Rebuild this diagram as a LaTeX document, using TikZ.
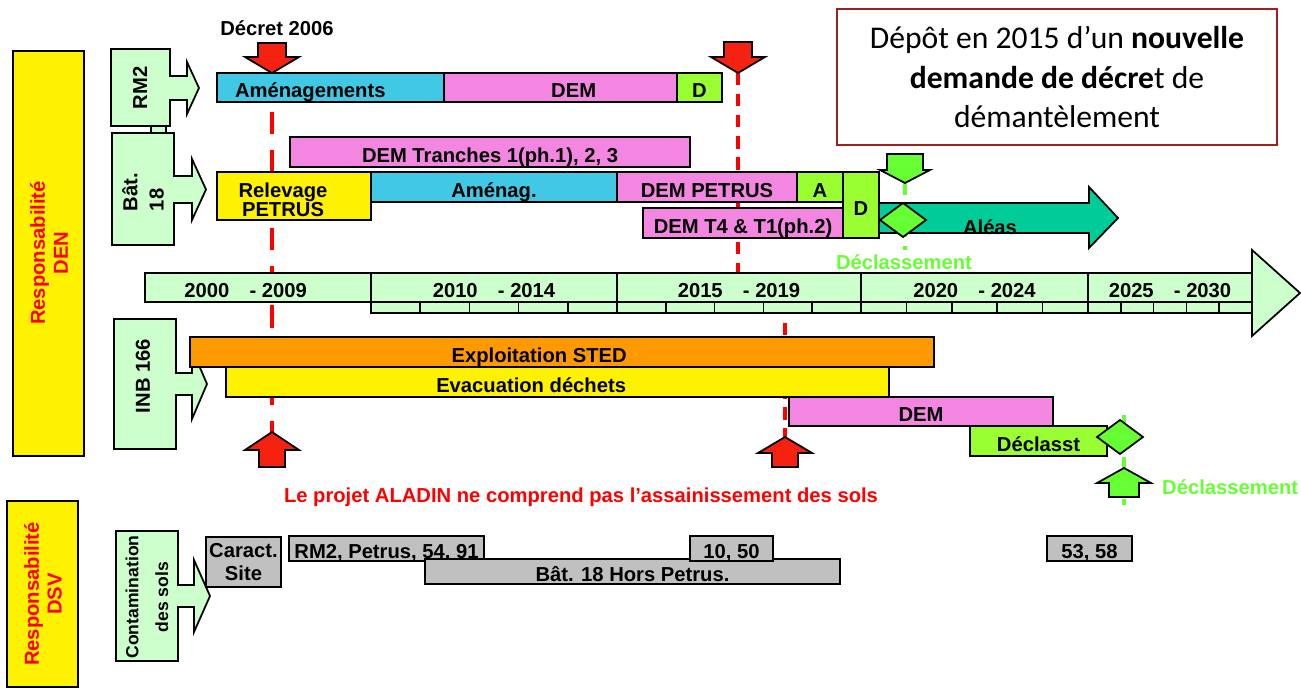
\documentclass[tikz,border=0pt]{standalone}
\usepackage{fontspec}
\setmainfont{Liberation Sans}
\newfontfamily\calibfont{Carlito}

\definecolor{paleGreen}{HTML}{CCFFCC}
\definecolor{skyBar}{HTML}{40C8E4}
\definecolor{pinkBar}{HTML}{F286E0}
\definecolor{limeBar}{HTML}{99FF33}
\definecolor{orangeBar}{HTML}{FF9900}
\definecolor{tealBar}{HTML}{00CC99}
\definecolor{greyBar}{HTML}{C0C0C0}
\definecolor{markRed}{HTML}{F52211}
\definecolor{markGreen}{HTML}{66FF33}
\definecolor{boxRed}{HTML}{9E2020}

\newcommand{\barfont}{\bfseries\fontsize{11.5}{13}\selectfont}

% name, left, top, right, bottom, fill, text
\newcommand{\ganttbar}[7]{%
  \node[bar, fill=#6, minimum width={(#4-#2)*0.02cm}, minimum height={(#5-#3)*0.02cm}]
    (#1) at ({(#2+#4)/2},{(#3+#5)/2}) {#7};}

% left, top, right, bottom, shaft top, shaft bottom, head base, tip, head top
\newcommand{\sidearrow}[9]{%
  \filldraw[shape line, fill=paleGreen] (#1,#2) -- (#3,#2) -- (#3,#5) -- (#7,#5) -- (#7,#9)
    -- ({#8},{(#5+#6)/2}) -- (#7,{#5+#6-#9}) -- (#7,#6) -- (#3,#6) -- (#3,#4) -- (#1,#4) -- cycle;}

% centre x, shaft end, head base, tip, shaft half width, head half width, fill
\newcommand{\blockpin}[7]{%
  \filldraw[shape line, fill=#7] ({#1-#5},#2) -- ({#1+#5},#2) -- ({#1+#5},#3) -- ({#1+#6},#3)
    -- (#1,#4) -- ({#1-#6},#3) -- ({#1-#5},#3) -- cycle;}

\newcommand{\milestone}[2]{%
  \filldraw[shape line, fill=markGreen] ({#1-23},#2) -- (#1,{#2-17}) -- ({#1+23},#2) -- (#1,{#2+17}) -- cycle;}

\begin{document}
\begin{tikzpicture}[x=0.02cm, y=-0.02cm,
  bar/.style={draw, line width=1pt, inner sep=0pt, font=\barfont, text height=11.4pt, text depth=0pt},
  twoline/.style={bar, text height=, text depth=, align=center},
  shape line/.style={draw, line width=1pt},
  tag/.style={font=\barfont, align=center},
  red dash/.style={draw=red, line width=2.5pt},
  green dash/.style={draw=markGreen, line width=2.5pt, dash pattern=on 7pt off 5pt}]
  \useasboundingbox (0,0) rectangle (1301,688);

  % guide lines, behind the bars
  \draw[red dash, dash pattern=on 13pt off 9pt] (272,73) -- (272,432);
  \draw[red dash, dash pattern=on 7pt off 5pt] (738,73) -- (738,272);
  \draw[red dash, dash pattern=on 7pt off 5pt] (785,302) -- (785,437);
  \draw[green dash] (905,183) -- (905,250);
  \draw[green dash] (1124,415) -- (1124,505);

  % responsibility columns
  \draw[shape line, fill=yellow] (13,51) rectangle (84,456);
  \node[tag, text=red, rotate=90] (denTxt) at (49,253) {Responsabilité\\DEN};
  \draw[shape line, fill=yellow] (7,501) rectangle (78,687);
  \node[tag, text=red, rotate=90] (dsvTxt) at (43,594) {Responsabilité\\DSV};

  % installations
  \sidearrow{111}{49}{170}{126}{76}{100}{187}{199}{62}
  \node[tag, rotate=90] (rm2) at (140,88) {RM2};
  \draw[shape line, fill=paleGreen] (151,126) rectangle (166,133);
  \sidearrow{112}{133}{174}{245}{176}{203}{192}{206}{159}
  \node[tag, rotate=90, align=left] (bat) at (143,192) {Bât.\\[2pt]18};
  \sidearrow{114}{319}{176}{449}{373}{395}{192}{207}{349}
  \node[tag, rotate=90] (inb) at (143,376) {INB 166};
  \sidearrow{116}{531}{178}{661}{585}{607}{194}{210}{560}
  \node[tag, rotate=90, font=\bfseries\fontsize{10}{11.5}\selectfont] (sols) at (147,597) {Contamination\\[5.5pt]des sols};

  % RM2 and Bat. 18
  \ganttbar{amen}{217}{73}{444}{102}{skyBar}{\hspace*{-23pt}Aménagements}
  \ganttbar{demRM}{444}{73}{677}{102}{pinkBar}{\hspace*{15pt}DEM}
  \ganttbar{dRM}{677}{73}{722}{102}{limeBar}{D}
  \ganttbar{tranches}{290}{137}{690}{167}{pinkBar}{DEM Tranches 1(ph.1), 2, 3}
  \ganttbar{relevage}{217}{172}{371}{220}{yellow}{}
  \node[tag, font=\bfseries\fontsize{11.5}{10.8}\selectfont] (relevTxt) at (283,200) {Relevage\\PETRUS};
  \ganttbar{amenag}{371}{172}{617}{202}{skyBar}{Aménag.}
  \ganttbar{demPet}{617}{172}{797}{202}{pinkBar}{DEM PETRUS}
  \ganttbar{aBat}{797}{172}{843}{202}{limeBar}{A}
  \ganttbar{demT}{643}{208}{843}{238}{pinkBar}{DEM T4 \& T1(ph.2)}
  \filldraw[shape line, fill=tealBar] (860,203) -- (1089,203) -- (1089,187) -- (1118,218)
    -- (1089,248) -- (1089,233) -- (860,233) -- cycle;
  \node[tag] (aleas) at (990,227) {Aléas};
  \ganttbar{dBat}{843}{172}{879}{238}{limeBar}{D}
  \milestone{903}{220}
  \blockpin{905}{154}{170}{183}{18}{25}{markGreen}
  \node[tag, text=markGreen] (declA) at (904,262) {Déclassement};

  % time line
  \filldraw[shape line, fill=paleGreen] (1252,273) -- (1252,250) -- (1300,293) -- (1252,336) -- (1252,313) -- cycle;
  \foreach \a/\b in {371/617, 617/861, 861/1088, 1088/1252}
    \foreach \k in {0,...,4}
      \draw[shape line, fill=paleGreen] ({\a+\k*(\b-\a)/5},302) rectangle ({\a+(\k+1)*(\b-\a)/5},313);
  \ganttbar{p2000}{145}{273}{371}{302}{paleGreen}{\hspace*{-14pt}2000\quad- 2009}
  \ganttbar{p2010}{371}{273}{617}{302}{paleGreen}{2010\quad- 2014}
  \ganttbar{p2015}{617}{273}{861}{302}{paleGreen}{2015\quad- 2019}
  \ganttbar{p2020}{861}{273}{1088}{302}{paleGreen}{2020\quad- 2024}
  \ganttbar{p2025}{1088}{273}{1252}{302}{paleGreen}{2025\quad- 2030}

  % INB 166
  \ganttbar{sted}{190}{337}{934}{367}{orangeBar}{\hspace*{-26pt}Exploitation STED}
  \ganttbar{evac}{226}{367}{889}{397}{yellow}{\hspace*{-30pt}Evacuation déchets}
  \ganttbar{demInb}{789}{397}{1053}{426}{pinkBar}{DEM}
  \ganttbar{declasst}{970}{426}{1107}{456}{limeBar}{Déclasst}
  \milestone{1120}{437}
  \blockpin{1124}{497}{483}{468}{15}{27}{markGreen}
  \node[tag, text=markGreen, anchor=west] (declB) at (1156,487) {Déclassement};

  % decree markers
  \node[tag] (decret) at (277,28) {Décret 2006};
  \blockpin{272}{43}{57}{73}{14}{27}{markRed}
  \blockpin{738}{42}{57}{73}{14}{27}{markRed}
  \blockpin{272}{467}{450}{432}{13}{27}{markRed}
  \blockpin{785}{467}{453}{437}{13}{27}{markRed}
  \node[tag, text=red] (aladin) at (581,497) {Le projet ALADIN ne comprend pas l’assainissement des sols};

  % soils
  \node[twoline, fill=greyBar, minimum width=75*0.02cm, minimum height=50*0.02cm]
    (caract) at (243.5,562) {Caract.\\Site};
  \ganttbar{rmPet}{289}{536}{484}{561}{greyBar}{RM2, Petrus, 54, 91}
  \ganttbar{horsPet}{425}{559}{840}{584}{greyBar}{Bât. 18 Hors Petrus.}
  \ganttbar{dix}{690}{536}{773}{561}{greyBar}{10, 50}
  \ganttbar{cinq}{1047}{536}{1132}{561}{greyBar}{53, 58}

  % new decree
  \node[draw=boxRed, line width=1.2pt, fill=white, minimum width=440*0.02cm, minimum height=136*0.02cm,
    align=center, font=\calibfont\fontsize{18}{22.3}\selectfont] (depot) at (1057,77)
    {Dépôt en 2015 d’un \textbf{nouvelle}\\\textbf{demande de décre}t de\\démantèlement};
\end{tikzpicture}
\end{document}
